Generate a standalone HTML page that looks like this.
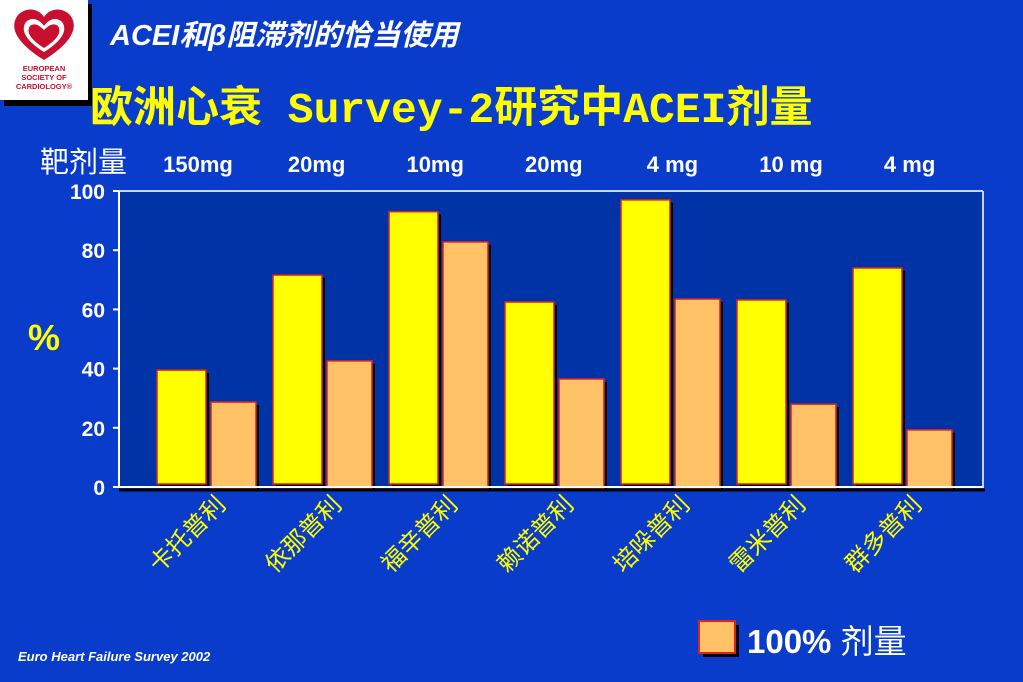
<!DOCTYPE html>
<html><head><meta charset="utf-8">
<style>
body{margin:0;width:1023px;height:682px;overflow:hidden;background:#0a3ccc;font-family:"Liberation Sans","Noto Sans CJK SC",sans-serif;}
svg{display:block}
</style></head>
<body>
<svg width="1023" height="682" xmlns="http://www.w3.org/2000/svg">
<rect width="1023" height="682" fill="#0a3ccc"/>
<g>
<rect x="4" y="4" width="88" height="102" fill="#000"/>
<rect x="0" y="0" width="88" height="100" fill="#fff"/>
<path d="M44 60 C18 44 8 28 18 15 C27 6 39 9 44 17 C49 9 61 6 70 15 C80 28 70 44 44 60Z" fill="#c8102e"/>
<path d="M44 52 C26 41 20 30 26 22 C32 16 40 20 44 26 C48 20 56 16 62 22 C68 30 62 41 44 52Z" fill="#fff"/>
<path d="M44 48 C30 39 26 32 30 26 C35 22 40 26 44 30 C48 26 53 22 58 26 C62 32 58 39 44 48Z" fill="#c8102e"/>
<text x="44" y="71" font-size="7.5" fill="#c8102e" text-anchor="middle" font-weight="bold">EUROPEAN</text>
<text x="44" y="80" font-size="7.5" fill="#c8102e" text-anchor="middle" font-weight="bold">SOCIETY OF</text>
<text x="44" y="89" font-size="7.5" fill="#c8102e" text-anchor="middle" font-weight="bold">CARDIOLOGY®</text>
</g>
<text x="110" y="45" font-size="29" font-weight="bold" font-style="italic" fill="#fff">ACEI和β阻滞剂的恰当使用</text>
<text x="90" y="122" font-size="43" font-weight="bold" fill="#ffff00" font-family="'Liberation Mono','Noto Sans CJK SC',monospace">欧洲心衰 Survey-2研究中ACEI剂量</text>
<text x="40" y="172" font-size="29" fill="#fff">靶剂量</text>
<text x="28" y="350" font-size="36" font-weight="bold" fill="#ffff00">%</text>
<rect x="119" y="191" width="864" height="296" fill="#0033a6"/>
<line x1="119" y1="191" x2="983" y2="191" stroke="#c8d4ff" stroke-width="2"/>
<line x1="983" y1="191" x2="983" y2="488" stroke="#c8d4ff" stroke-width="2"/>
<g id="chart"></g>
<line x1="119" y1="191" x2="119" y2="488" stroke="#fff" stroke-width="2"/>
<line x1="119" y1="490" x2="985" y2="490" stroke="#000" stroke-width="3"/>
<line x1="119" y1="487" x2="983" y2="487" stroke="#fff" stroke-width="2"/>
<g>
<rect x="703" y="625" width="36" height="32" fill="#000"/>
<rect x="699" y="621" width="36" height="32" fill="#ffc266" stroke="#e02020" stroke-width="2"/>
<text x="747" y="653" font-size="33" fill="#fff"><tspan font-weight="bold">100%</tspan> 剂量</text>
</g>
<text x="18" y="661" font-size="13" font-weight="bold" font-style="italic" fill="#fff">Euro Heart Failure Survey 2002</text>
</svg>
<script>
const categories=["卡托普利","依那普利","福辛普利","赖诺普利","培哚普利","雷米普利","群多普利"];
const targetDoses=["150mg","20mg","10mg","20mg","4 mg","10 mg","4 mg"];
const anyDoseValues=[39.5,71.6,93,62.5,97,63.2,74];
const fullDoseValues=[28.7,42.6,82.8,36.5,63.5,28,19.3];
const yTicks=[0,20,40,60,80,100];
const NS="http://www.w3.org/2000/svg";
const g=document.getElementById('chart');
const svg=g.ownerSVGElement;
const x0=119,plotW=864,yTop=191,yBot=487;
const y=v=>yBot-(v/100)*(yBot-yTop);
const gx=i=>x0+38+i*116;
function mk(tag,attrs){const e=document.createElementNS(NS,tag);for(const k in attrs)e.setAttribute(k,attrs[k]);return e;}
yTicks.forEach(t=>{
  const tk=mk('line',{x1:113,x2:119,y1:y(t),y2:y(t),stroke:'#fff','stroke-width':2});
  
  
  g.appendChild(tk);
  const tx=mk('text',{x:105,y:y(t)+8,'font-size':21,'font-weight':'bold',fill:'#fff','text-anchor':'end'});
  tx.textContent=t;
  
  
  g.appendChild(tx);
});
categories.forEach((c,i)=>{
  const bx=gx(i);
  const sh1=mk('rect',{x:bx+3,y:y(anyDoseValues[i])+3,width:49,height:484-y(anyDoseValues[i]),fill:'#000'});
  g.appendChild(sh1);
  const b1=mk('rect',{x:bx,y:y(anyDoseValues[i]),width:49,height:484-y(anyDoseValues[i]),fill:'#ffff00',stroke:'#e02020','stroke-width':1.5});
  
  
  g.appendChild(b1);
  const ox=bx+54;
  const sh2=mk('rect',{x:ox+3,y:y(fullDoseValues[i])+3,width:45,height:488-y(fullDoseValues[i]),fill:'#000'});
  g.appendChild(sh2);
  const b2=mk('rect',{x:ox,y:y(fullDoseValues[i]),width:45,height:488-y(fullDoseValues[i]),fill:'#ffc266',stroke:'#e02020','stroke-width':1.5});
  
  
  g.appendChild(b2);
  const ax=bx+70, ay=506;
  const lab=mk('text',{x:ax,y:ay,'font-size':24,fill:'#ffff00','text-anchor':'end',transform:`rotate(-45 ${ax} ${ay})`});
  lab.textContent=c;
  
  
  g.appendChild(lab);
  const dl=mk('text',{x:bx+41+i*2.6,y:172,'font-size':22,'font-weight':'bold',fill:'#fff','text-anchor':'middle'});
  dl.textContent=targetDoses[i];
  
  
  svg.appendChild(dl);
});
</script>
</body></html>
